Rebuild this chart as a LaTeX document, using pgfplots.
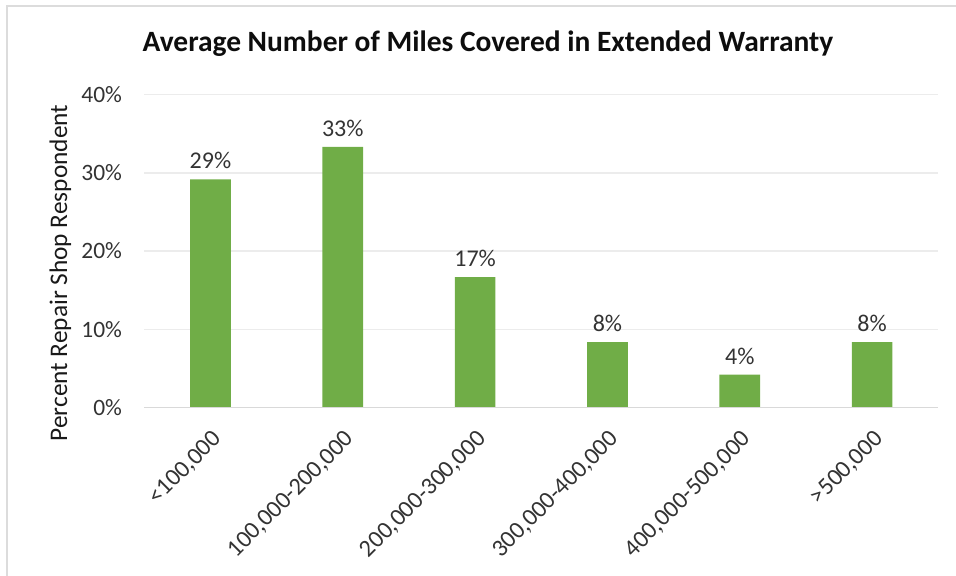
\documentclass[border=0pt]{standalone}
\usepackage{pgfplots}
\pgfplotsset{compat=1.18}
\usepackage{fontspec}
\setmainfont{Carlito}
\definecolor{barGreen}{HTML}{70AD47}
\definecolor{gridGrey}{HTML}{ECECEC}
\definecolor{axisGrey}{HTML}{D9D9D9}
\definecolor{frameGrey}{HTML}{DCDCDC}
\definecolor{textGrey}{HTML}{333333}

\pgfplotstableread{
idx value
0 29.17
1 33.33
2 16.67
3 8.33
4 4.17
5 8.33
}\milesdata

\begin{document}
\begin{tikzpicture}
% page is 956 x 575 px at 0.75pt per px
\useasboundingbox (0pt,0pt) rectangle (717pt,-431.25pt);
\begin{scope}[x=0.75pt,y=-0.75pt]
  % chart frame (left and top edges)
  \draw[frameGrey, line width=1.5pt] (7,580) -- (7,6) -- (960,6);
  % title
  \node[anchor=base, font=\fontsize{22.1}{26}\selectfont\bfseries, text=black!95]
    at (488,51) {Average Number of Miles Covered in Extended Warranty};
  % y axis title
  \node[rotate=90, anchor=base, font=\fontsize{19}{23}\selectfont, text=black!90]
    at (67,273) {Percent Repair Shop Respondent};
\end{scope}

\begin{axis}[
  at={(108.2pt,-305.5pt)}, anchor=south west,
  scale only axis,
  width=595.5pt, height=234.5pt,
  xmin=-0.5, xmax=5.5,
  ymin=0, ymax=40,
  ytick={0,10,20,30,40},
  yticklabel={\pgfmathprintnumber{\tick}\%},
  xtick=data,
  xticklabels={{<100,000},{100,000-200,000},{200,000-300,000},{300,000-400,000},{400,000-500,000},{>500,000}},
  major tick length=0pt,
  axis line style={draw=none},
  ymajorgrids,
  grid style={gridGrey, line width=1pt},
  /pgf/number format/assume math mode=true,
  tick label style={font=\fontsize{17.6}{20}\selectfont, text=textGrey},
  yticklabel style={anchor=east, inner sep=0pt, xshift=-16.5pt},
  xticklabel style={font=\fontsize{18.2}{20}\selectfont, xshift=0.5pt, yshift=-16pt, rotate=45, anchor=north east, inner sep=0pt},
  nodes near coords={\pgfmathprintnumber[fixed,precision=0]{\pgfplotspointmeta}\%},
  every node near coord/.append style={font=\fontsize{18}{20}\selectfont, text=textGrey, anchor=south, inner sep=0pt, yshift=7.5pt},
  clip=false,
]
\addplot[ybar, bar width=30.5pt, fill=barGreen, draw=none] table[x=idx, y=value] {\milesdata};
\draw[axisGrey, line width=1.2pt] (rel axis cs:0,0) -- (rel axis cs:1,0);
\end{axis}
\end{tikzpicture}
\end{document}
